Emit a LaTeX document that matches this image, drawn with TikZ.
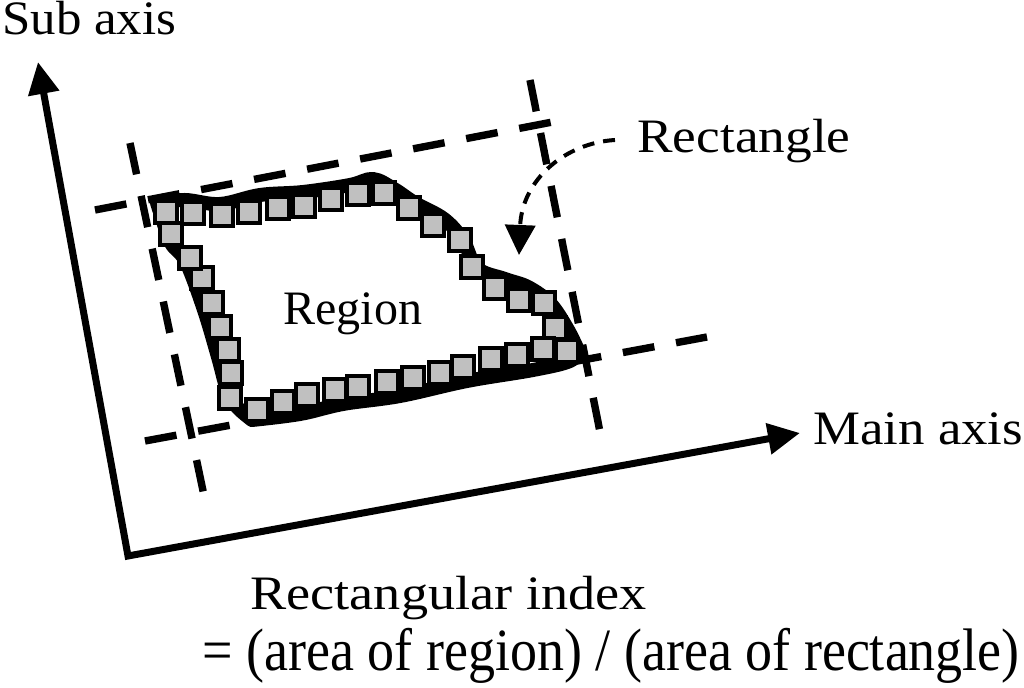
\documentclass[tikz,border=0pt]{standalone}
\usepackage{fontspec}
\setmainfont{Liberation Serif}
\usetikzlibrary{arrows.meta}
\definecolor{sqgray}{HTML}{C0C0C0}
\begin{document}
\begin{tikzpicture}[x=0.5pt,y=-0.5pt,
  axis/.style={line width=3.5pt, line join=miter, {Triangle[length=16pt,width=15pt]}-{Triangle[length=16pt,width=15pt]}},
  guide/.style={line width=3.7pt, dash pattern=on 16pt off 11pt},
  regionline/.style={line width=7pt, line join=round},
  sq/.style={draw=black, fill=sqgray, line width=2pt, minimum size=11pt, inner sep=0pt},
  lbl/.style={inner sep=0pt, anchor=base west, font=\fontsize{24}{28}\selectfont},
  callout/.style={line width=2pt, dash pattern=on 6pt off 4.5pt, -{Triangle[length=15pt,width=15pt]}}
]
\useasboundingbox (0,0) rectangle (1024,688);

% axes
\coordinate (O) at (128,556);
\coordinate (Ytip) at (38,62);
\coordinate (Xtip) at (800,433);
\draw[axis] (Ytip) -- (O) -- (Xtip);

% dashed rectangle
\coordinate (t1) at (95,210);  \coordinate (t2) at (563,120);
\coordinate (b1) at (145,441); \coordinate (b2) at (707,337);
\coordinate (l1) at (130,143); \coordinate (l2) at (206,505);
\coordinate (r1) at (530,80);  \coordinate (r2) at (602,442);
\draw[guide] (t1) -- (t2);
\draw[guide] (b1) -- (b2);
\draw[guide] (l1) -- (l2);
\draw[guide] (r1) -- (r2);

% region outline
\draw[regionline]
  plot[smooth, tension=0.6] coordinates {(157,203) (185,200) (220,204) (260,195) (303,192) (350,185) (373,179) (394,189) (415,203) (444,219) (463,240) (477,268) (505,279) (528,287) (550,303) (567,328) (578,350)}
  -- plot[smooth, tension=0.6] coordinates {(578,350) (570,361) (533,370) (467,381) (400,396) (343,404) (300,414) (252,420)}
  -- plot[smooth, tension=0.6] coordinates {(252,420) (238,408) (228,393) (218,357) (204,310) (186,262) (171,243) (161,215) (157,203)}
  -- cycle;

% squares along the boundary
\foreach \p [count=\i] in {(166,212),(193,213),(222,215),(249,212),(278,208),(304,206),(331,199),(358,194),(384,193),(409,208),
  (433,225),(460,240),(472,267),(495,288),(519,300),(544,303),(555,328),(567,351),
  (543,349),(517,355),(491,359),(463,367),(440,373),(413,378),(387,382),(358,387),(335,390),(307,395),(283,402),(257,410),
  (230,398),(231,373),(228,350),(220,327),(212,303),(202,278),(190,258),(171,234)}
  \node[sq] (s\i) at \p {};

% labels
\node[lbl] (sub) at (2,35) {\scalebox{1.06}[1]{Sub axis}};
\node[lbl] (main) at (813,445) {\scalebox{1.1}[1]{Main axis}};
\node[lbl] (rect) at (637,153) {\scalebox{1.11}[1]{Rectangle}};
\node[lbl] (reg) at (283,325) {Region};
\node[lbl] (idx1) at (250,610) {\scalebox{1.13}[1]{Rectangular index}};
\node[lbl, font=\fontsize{30}{34}\selectfont] (idx2) at (202,671) {\scalebox{0.9}[1]{= (area of region) / (area of rectangle)}};

% callout
\coordinate (cstart) at (615,140);
\coordinate (ctip) at (519,255);
\draw[callout] (cstart) .. controls (565,143) and (522,180) .. (ctip);
\end{tikzpicture}
\end{document}
